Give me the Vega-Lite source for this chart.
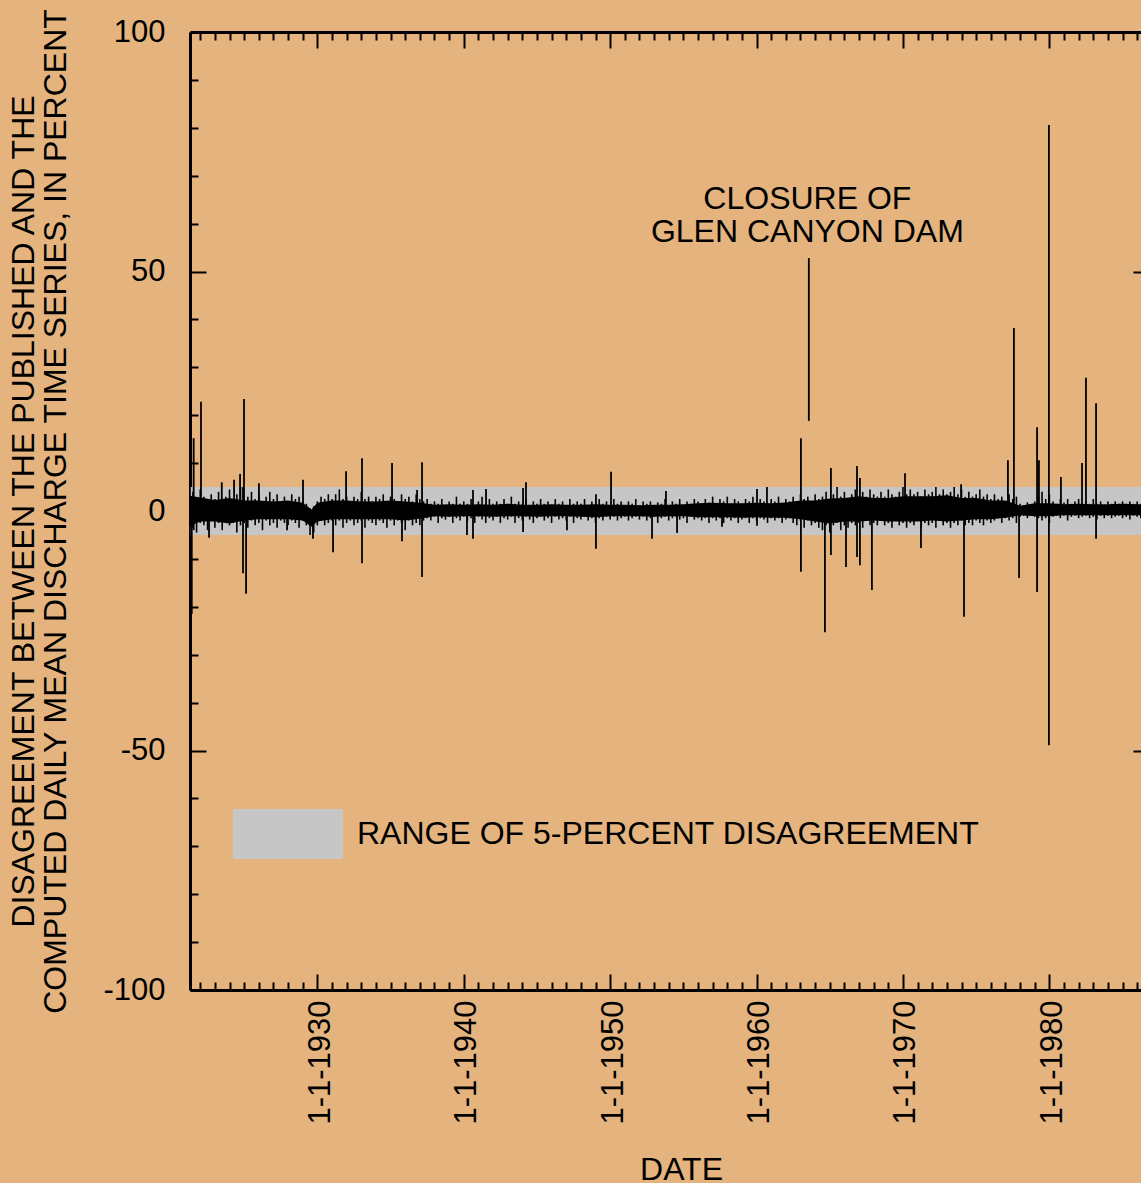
{
  "$schema": "https://vega.github.io/schema/vega-lite/v6.json",
  "width": 951,
  "height": 958,
  "autosize": {"type": "none"},
  "padding": {"left": 190, "top": 32, "right": 0, "bottom": 193},
  "background": "#e5b47e",
  "config": {
    "view": {"stroke": null},
    "font": "Liberation Sans",
    "axis": {
      "grid": false,
      "domainColor": "black",
      "domainWidth": 3,
      "tickColor": "black",
      "tickWidth": 2,
      "labelColor": "black",
      "titleColor": "black",
      "labelFont": "Liberation Sans",
      "titleFont": "Liberation Sans",
      "labelFontSize": 31,
      "titleFontSize": 32,
      "titleFontWeight": "normal",
      "labelOverlap": false,
      "labelFlush": false
    }
  },
  "datasets": {
    "band": [{"lo": -5, "hi": 5, "label": "RANGE OF 5-PERCENT DISAGREEMENT"}],
    "note": [{"t": 1963.47, "v": 63.05, "txt": "CLOSURE OF\nGLEN CANYON DAM"}],
    "core": [
      {"t":1921.3,"lo":-3.2,"hi":3.2},{"t":1922,"lo":-2.2,"hi":2.8},{"t":1923,"lo":-2.2,"hi":2.3},{"t":1924,"lo":-2.6,"hi":2.7},
      {"t":1925,"lo":-2.0,"hi":2.2},{"t":1926,"lo":-1.7,"hi":2.2},{"t":1927,"lo":-1.7,"hi":2.0},{"t":1928,"lo":-1.7,"hi":2.2},
      {"t":1929,"lo":-2.0,"hi":1.7},{"t":1929.6,"lo":-3.3,"hi":0.3},{"t":1930,"lo":-2.2,"hi":1.7},{"t":1931,"lo":-1.7,"hi":2.2},
      {"t":1932,"lo":-1.7,"hi":2.2},{"t":1933,"lo":-1.7,"hi":2.0},{"t":1934,"lo":-1.7,"hi":2.0},{"t":1935,"lo":-1.7,"hi":2.2},
      {"t":1936,"lo":-2.0,"hi":2.0},{"t":1937,"lo":-1.6,"hi":1.7},{"t":1938,"lo":-1.1,"hi":1.3},{"t":1939,"lo":-1.2,"hi":1.4},
      {"t":1940,"lo":-1.1,"hi":1.3},{"t":1941,"lo":-1.1,"hi":1.4},{"t":1942,"lo":-1.2,"hi":1.3},{"t":1943,"lo":-1.1,"hi":1.5},
      {"t":1944,"lo":-1.1,"hi":1.3},{"t":1945,"lo":-1.2,"hi":1.3},{"t":1946,"lo":-1.1,"hi":1.4},{"t":1947,"lo":-1.1,"hi":1.3},
      {"t":1948,"lo":-1.2,"hi":1.3},{"t":1949,"lo":-1.3,"hi":1.4},{"t":1950,"lo":-1.1,"hi":1.3},{"t":1951,"lo":-1.1,"hi":1.3},
      {"t":1952,"lo":-1.1,"hi":1.2},{"t":1953,"lo":-1.2,"hi":1.3},{"t":1954,"lo":-1.1,"hi":1.3},{"t":1955,"lo":-1.1,"hi":1.4},
      {"t":1956,"lo":-1.3,"hi":1.6},{"t":1957,"lo":-1.3,"hi":1.7},{"t":1958,"lo":-1.3,"hi":1.6},{"t":1959,"lo":-1.4,"hi":1.6},
      {"t":1960,"lo":-1.3,"hi":1.7},{"t":1961,"lo":-1.4,"hi":1.6},{"t":1962,"lo":-1.4,"hi":1.8},{"t":1963,"lo":-1.7,"hi":2.2},
      {"t":1964,"lo":-2.2,"hi":2.2},{"t":1965,"lo":-2.6,"hi":2.6},{"t":1966,"lo":-2.2,"hi":2.7},{"t":1967,"lo":-2.2,"hi":3.1},
      {"t":1968,"lo":-2.0,"hi":2.7},{"t":1969,"lo":-2.2,"hi":2.7},{"t":1970,"lo":-2.2,"hi":3.1},{"t":1971,"lo":-2.2,"hi":3.1},
      {"t":1972,"lo":-2.0,"hi":3.1},{"t":1973,"lo":-2.2,"hi":3.3},{"t":1974,"lo":-2.0,"hi":2.7},{"t":1975,"lo":-1.7,"hi":2.7},
      {"t":1976,"lo":-1.7,"hi":2.2},{"t":1977,"lo":-1.4,"hi":2.2},{"t":1978,"lo":-0.9,"hi":1.1},{"t":1979,"lo":-1.1,"hi":1.6},
      {"t":1980,"lo":-1.1,"hi":1.6},{"t":1981,"lo":-0.9,"hi":1.4},{"t":1982,"lo":-0.9,"hi":1.5},{"t":1983,"lo":-0.9,"hi":1.4},
      {"t":1984,"lo":-0.9,"hi":1.4},{"t":1985,"lo":-0.9,"hi":1.5},{"t":1986,"lo":-0.9,"hi":1.4},{"t":1986.8,"lo":-0.9,"hi":1.4}
    ],
    "noise": [
      {"t":1921.30,"lo":-5.5,"hi":5.5},{"t":1921.50,"lo":-3.5,"hi":4.0},{"t":1921.75,"lo":-4.5,"hi":2.5},{"t":1922.00,"lo":-2.5,"hi":4.5},
      {"t":1922.25,"lo":-3.0,"hi":3.0},{"t":1922.50,"lo":-4.0,"hi":2.0},{"t":1922.75,"lo":-2.0,"hi":3.5},{"t":1923.00,"lo":-3.5,"hi":2.5},
      {"t":1923.25,"lo":-2.5,"hi":4.0},{"t":1923.50,"lo":-4.0,"hi":2.5},{"t":1923.75,"lo":-2.0,"hi":3.0},{"t":1924.00,"lo":-3.0,"hi":4.5},
      {"t":1924.25,"lo":-2.5,"hi":2.5},{"t":1924.50,"lo":-4.5,"hi":3.5},{"t":1924.75,"lo":-3.0,"hi":5.0},{"t":1925.00,"lo":-2.5,"hi":2.5},
      {"t":1925.25,"lo":-3.5,"hi":3.0},{"t":1925.50,"lo":-2.0,"hi":4.0},{"t":1925.75,"lo":-3.0,"hi":2.5},{"t":1926.00,"lo":-2.5,"hi":3.5},
      {"t":1926.25,"lo":-4.0,"hi":2.0},{"t":1926.50,"lo":-2.0,"hi":3.0},{"t":1926.75,"lo":-3.0,"hi":4.0},{"t":1927.00,"lo":-2.5,"hi":2.5},
      {"t":1927.25,"lo":-3.5,"hi":3.5},{"t":1927.50,"lo":-2.0,"hi":2.0},{"t":1927.75,"lo":-2.5,"hi":3.0},{"t":1928.00,"lo":-3.0,"hi":2.0},
      {"t":1928.25,"lo":-2.0,"hi":3.5},{"t":1928.50,"lo":-2.5,"hi":2.5},{"t":1928.75,"lo":-3.5,"hi":3.0},{"t":1929.00,"lo":-2.0,"hi":2.0},
      {"t":1929.25,"lo":-3.0,"hi":1.5},{"t":1929.50,"lo":-5.0,"hi":0.5},{"t":1929.75,"lo":-4.5,"hi":1.0},{"t":1930.00,"lo":-3.0,"hi":2.0},
      {"t":1930.25,"lo":-2.0,"hi":3.0},{"t":1930.50,"lo":-3.0,"hi":2.5},{"t":1930.75,"lo":-2.5,"hi":3.5},{"t":1931.00,"lo":-2.0,"hi":2.5},
      {"t":1931.25,"lo":-3.0,"hi":3.5},{"t":1931.50,"lo":-2.0,"hi":4.5},{"t":1931.75,"lo":-3.5,"hi":2.5},{"t":1932.00,"lo":-2.5,"hi":3.0},
      {"t":1932.25,"lo":-2.0,"hi":2.0},{"t":1932.50,"lo":-3.0,"hi":3.0},{"t":1932.75,"lo":-2.5,"hi":2.5},{"t":1933.00,"lo":-2.0,"hi":4.0},
      {"t":1933.25,"lo":-3.5,"hi":2.5},{"t":1933.50,"lo":-2.0,"hi":3.0},{"t":1933.75,"lo":-2.5,"hi":2.0},{"t":1934.00,"lo":-3.0,"hi":3.0},
      {"t":1934.25,"lo":-2.0,"hi":2.5},{"t":1934.50,"lo":-2.5,"hi":3.5},{"t":1934.75,"lo":-3.5,"hi":2.0},{"t":1935.00,"lo":-2.0,"hi":3.0},
      {"t":1935.25,"lo":-3.0,"hi":2.5},{"t":1935.50,"lo":-2.0,"hi":2.0},{"t":1935.75,"lo":-2.5,"hi":3.5},{"t":1936.00,"lo":-4.0,"hi":2.5},
      {"t":1936.25,"lo":-2.0,"hi":3.0},{"t":1936.50,"lo":-3.0,"hi":2.0},{"t":1936.75,"lo":-2.5,"hi":3.5},{"t":1937.00,"lo":-3.0,"hi":2.5},
      {"t":1937.25,"lo":-2.0,"hi":2.0},{"t":1937.50,"lo":-1.5,"hi":2.5},{"t":1937.75,"lo":-2.0,"hi":1.5},{"t":1938.00,"lo":-1.2,"hi":2.0},
      {"t":1938.25,"lo":-2.5,"hi":1.5},{"t":1938.50,"lo":-1.5,"hi":2.5},{"t":1938.75,"lo":-1.8,"hi":1.2},{"t":1939.00,"lo":-1.2,"hi":2.0},
      {"t":1939.25,"lo":-2.5,"hi":1.5},{"t":1939.50,"lo":-1.5,"hi":3.0},{"t":1939.75,"lo":-2.0,"hi":1.5},{"t":1940.00,"lo":-1.2,"hi":2.0},
      {"t":1940.25,"lo":-2.0,"hi":1.5},{"t":1940.50,"lo":-1.5,"hi":2.5},{"t":1940.75,"lo":-2.5,"hi":1.2},{"t":1941.00,"lo":-1.2,"hi":2.0},
      {"t":1941.25,"lo":-1.8,"hi":3.0},{"t":1941.50,"lo":-2.5,"hi":1.5},{"t":1941.75,"lo":-1.5,"hi":2.5},{"t":1942.00,"lo":-2.0,"hi":1.5},
      {"t":1942.25,"lo":-1.2,"hi":2.0},{"t":1942.50,"lo":-2.5,"hi":1.5},{"t":1942.75,"lo":-1.5,"hi":2.5},{"t":1943.00,"lo":-1.8,"hi":1.5},
      {"t":1943.25,"lo":-1.2,"hi":3.0},{"t":1943.50,"lo":-2.5,"hi":1.5},{"t":1943.75,"lo":-1.5,"hi":2.0},{"t":1944.00,"lo":-2.0,"hi":1.5},
      {"t":1944.25,"lo":-1.2,"hi":2.5},{"t":1944.50,"lo":-1.8,"hi":1.2},{"t":1944.75,"lo":-2.5,"hi":2.0},{"t":1945.00,"lo":-1.5,"hi":1.5},
      {"t":1945.25,"lo":-1.2,"hi":2.5},{"t":1945.50,"lo":-2.0,"hi":1.5},{"t":1945.75,"lo":-1.5,"hi":2.0},{"t":1946.00,"lo":-2.5,"hi":1.2},
      {"t":1946.25,"lo":-1.2,"hi":2.5},{"t":1946.50,"lo":-1.8,"hi":1.5},{"t":1946.75,"lo":-1.5,"hi":2.0},{"t":1947.00,"lo":-2.0,"hi":1.2},
      {"t":1947.25,"lo":-1.2,"hi":2.5},{"t":1947.50,"lo":-2.5,"hi":1.5},{"t":1947.75,"lo":-1.5,"hi":2.0},{"t":1948.00,"lo":-1.8,"hi":1.5},
      {"t":1948.25,"lo":-1.2,"hi":2.5},{"t":1948.50,"lo":-2.0,"hi":1.2},{"t":1948.75,"lo":-1.5,"hi":2.0},{"t":1949.00,"lo":-2.5,"hi":1.5},
      {"t":1949.25,"lo":-1.5,"hi":2.5},{"t":1949.50,"lo":-2.0,"hi":1.5},{"t":1949.75,"lo":-1.2,"hi":2.0},{"t":1950.00,"lo":-1.8,"hi":1.2},
      {"t":1950.25,"lo":-1.2,"hi":2.5},{"t":1950.50,"lo":-2.0,"hi":1.5},{"t":1950.75,"lo":-1.5,"hi":2.0},{"t":1951.00,"lo":-1.2,"hi":1.2},
      {"t":1951.25,"lo":-2.0,"hi":2.0},{"t":1951.50,"lo":-1.5,"hi":1.5},{"t":1951.75,"lo":-1.2,"hi":2.5},{"t":1952.00,"lo":-1.8,"hi":1.2},
      {"t":1952.25,"lo":-1.2,"hi":2.0},{"t":1952.50,"lo":-2.0,"hi":1.5},{"t":1952.75,"lo":-1.5,"hi":2.0},{"t":1953.00,"lo":-1.2,"hi":1.2},
      {"t":1953.25,"lo":-2.5,"hi":1.8},{"t":1953.50,"lo":-1.5,"hi":1.5},{"t":1953.75,"lo":-1.2,"hi":2.5},{"t":1954.00,"lo":-2.0,"hi":1.2},
      {"t":1954.25,"lo":-1.5,"hi":2.0},{"t":1954.50,"lo":-1.2,"hi":1.5},{"t":1954.75,"lo":-1.8,"hi":2.5},{"t":1955.00,"lo":-1.5,"hi":1.2},
      {"t":1955.25,"lo":-2.5,"hi":2.0},{"t":1955.50,"lo":-1.2,"hi":1.5},{"t":1955.75,"lo":-1.8,"hi":2.5},{"t":1956.00,"lo":-1.5,"hi":2.0},
      {"t":1956.25,"lo":-2.0,"hi":1.5},{"t":1956.50,"lo":-1.5,"hi":2.5},{"t":1956.75,"lo":-2.5,"hi":1.8},{"t":1957.00,"lo":-1.5,"hi":3.0},
      {"t":1957.25,"lo":-2.0,"hi":1.5},{"t":1957.50,"lo":-1.5,"hi":2.5},{"t":1957.75,"lo":-2.5,"hi":2.0},{"t":1958.00,"lo":-1.5,"hi":3.0},
      {"t":1958.25,"lo":-2.0,"hi":1.5},{"t":1958.50,"lo":-1.5,"hi":2.5},{"t":1958.75,"lo":-2.5,"hi":2.0},{"t":1959.00,"lo":-1.8,"hi":1.5},
      {"t":1959.25,"lo":-1.5,"hi":2.5},{"t":1959.50,"lo":-2.5,"hi":2.0},{"t":1959.75,"lo":-1.5,"hi":3.0},{"t":1960.00,"lo":-2.0,"hi":1.5},
      {"t":1960.25,"lo":-1.5,"hi":2.5},{"t":1960.50,"lo":-1.8,"hi":2.0},{"t":1960.75,"lo":-2.5,"hi":1.5},{"t":1961.00,"lo":-1.5,"hi":2.5},
      {"t":1961.25,"lo":-2.0,"hi":2.0},{"t":1961.50,"lo":-1.5,"hi":3.0},{"t":1961.75,"lo":-2.5,"hi":1.5},{"t":1962.00,"lo":-1.8,"hi":2.5},
      {"t":1962.25,"lo":-1.5,"hi":2.0},{"t":1962.50,"lo":-2.5,"hi":3.0},{"t":1962.75,"lo":-3.0,"hi":2.0},{"t":1963.00,"lo":-2.0,"hi":3.5},
      {"t":1963.25,"lo":-3.5,"hi":2.5},{"t":1963.50,"lo":-2.0,"hi":3.0},{"t":1963.75,"lo":-3.0,"hi":2.0},{"t":1964.00,"lo":-2.5,"hi":3.5},
      {"t":1964.25,"lo":-3.5,"hi":2.5},{"t":1964.50,"lo":-4.0,"hi":3.0},{"t":1964.75,"lo":-3.0,"hi":4.0},{"t":1965.00,"lo":-4.5,"hi":2.5},
      {"t":1965.25,"lo":-3.0,"hi":3.5},{"t":1965.50,"lo":-2.5,"hi":5.0},{"t":1965.75,"lo":-4.0,"hi":3.0},{"t":1966.00,"lo":-3.0,"hi":4.0},
      {"t":1966.25,"lo":-3.5,"hi":2.5},{"t":1966.50,"lo":-2.5,"hi":3.5},{"t":1966.75,"lo":-3.0,"hi":4.5},{"t":1967.00,"lo":-2.5,"hi":3.0},
      {"t":1967.25,"lo":-3.5,"hi":4.0},{"t":1967.50,"lo":-2.0,"hi":3.0},{"t":1967.75,"lo":-3.0,"hi":4.5},{"t":1968.00,"lo":-2.5,"hi":3.5},
      {"t":1968.25,"lo":-3.0,"hi":3.0},{"t":1968.50,"lo":-2.0,"hi":4.0},{"t":1968.75,"lo":-3.0,"hi":3.0},{"t":1969.00,"lo":-2.5,"hi":4.5},
      {"t":1969.25,"lo":-3.5,"hi":3.5},{"t":1969.50,"lo":-2.0,"hi":3.0},{"t":1969.75,"lo":-3.0,"hi":4.0},{"t":1970.00,"lo":-2.5,"hi":5.0},
      {"t":1970.25,"lo":-3.5,"hi":3.5},{"t":1970.50,"lo":-2.5,"hi":4.5},{"t":1970.75,"lo":-3.0,"hi":3.5},{"t":1971.00,"lo":-2.0,"hi":4.0},
      {"t":1971.25,"lo":-3.5,"hi":3.0},{"t":1971.50,"lo":-2.5,"hi":4.5},{"t":1971.75,"lo":-3.0,"hi":3.5},{"t":1972.00,"lo":-2.5,"hi":4.0},
      {"t":1972.25,"lo":-3.5,"hi":5.0},{"t":1972.50,"lo":-2.0,"hi":3.5},{"t":1972.75,"lo":-3.0,"hi":4.5},{"t":1973.00,"lo":-2.5,"hi":3.5},
      {"t":1973.25,"lo":-3.5,"hi":4.0},{"t":1973.50,"lo":-2.5,"hi":5.0},{"t":1973.75,"lo":-3.0,"hi":3.5},{"t":1974.00,"lo":-2.0,"hi":4.5},
      {"t":1974.25,"lo":-3.0,"hi":3.0},{"t":1974.50,"lo":-2.5,"hi":4.0},{"t":1974.75,"lo":-3.0,"hi":3.0},{"t":1975.00,"lo":-2.0,"hi":3.5},
      {"t":1975.25,"lo":-2.5,"hi":4.5},{"t":1975.50,"lo":-3.0,"hi":3.0},{"t":1975.75,"lo":-2.0,"hi":3.5},{"t":1976.00,"lo":-2.5,"hi":2.5},
      {"t":1976.25,"lo":-2.0,"hi":3.5},{"t":1976.50,"lo":-1.5,"hi":2.5},{"t":1976.75,"lo":-2.5,"hi":3.0},{"t":1977.00,"lo":-1.5,"hi":2.0},
      {"t":1977.25,"lo":-2.0,"hi":3.5},{"t":1977.50,"lo":-1.5,"hi":2.5},{"t":1977.75,"lo":-2.5,"hi":3.0},{"t":1978.00,"lo":-1.2,"hi":1.5},
      {"t":1978.25,"lo":-1.0,"hi":1.2},{"t":1978.50,"lo":-1.5,"hi":1.8},{"t":1978.75,"lo":-1.0,"hi":1.2},{"t":1979.00,"lo":-1.2,"hi":2.0},
      {"t":1979.25,"lo":-1.5,"hi":3.0},{"t":1979.50,"lo":-2.0,"hi":4.0},{"t":1979.75,"lo":-1.5,"hi":2.5},{"t":1980.00,"lo":-2.5,"hi":3.5},
      {"t":1980.25,"lo":-1.2,"hi":2.0},{"t":1980.50,"lo":-1.0,"hi":1.5},{"t":1980.75,"lo":-1.5,"hi":2.5},{"t":1981.00,"lo":-1.0,"hi":1.8},
      {"t":1981.25,"lo":-2.0,"hi":2.5},{"t":1981.50,"lo":-1.2,"hi":1.5},{"t":1981.75,"lo":-1.0,"hi":2.0},{"t":1982.00,"lo":-1.5,"hi":2.5},
      {"t":1982.25,"lo":-1.2,"hi":1.5},{"t":1982.50,"lo":-1.0,"hi":2.0},{"t":1982.75,"lo":-1.5,"hi":1.5},{"t":1983.00,"lo":-1.2,"hi":2.5},
      {"t":1983.25,"lo":-1.8,"hi":1.5},{"t":1983.50,"lo":-1.0,"hi":2.0},{"t":1983.75,"lo":-1.5,"hi":1.2},{"t":1984.00,"lo":-1.0,"hi":2.0},
      {"t":1984.25,"lo":-1.5,"hi":1.5},{"t":1984.50,"lo":-1.2,"hi":2.0},{"t":1984.75,"lo":-1.0,"hi":1.5},{"t":1985.00,"lo":-1.5,"hi":2.0},
      {"t":1985.25,"lo":-1.2,"hi":1.5},{"t":1985.50,"lo":-1.8,"hi":2.0},{"t":1985.75,"lo":-1.0,"hi":1.5},{"t":1986.00,"lo":-1.2,"hi":2.0},
      {"t":1986.25,"lo":-1.5,"hi":1.5}
    ],
    "spikes": [
      {"t":1921.42,"lo":-21.5,"hi":2},{"t":1921.55,"lo":-4,"hi":15.2},{"t":1922.05,"lo":-2,"hi":22.8},{"t":1922.60,"lo":-5.6,"hi":1},
      {"t":1923.47,"lo":-1,"hi":6},{"t":1924.31,"lo":-1,"hi":6.5},{"t":1924.72,"lo":-1,"hi":7.7},{"t":1924.92,"lo":-13,"hi":5},
      {"t":1924.99,"lo":-2,"hi":23.4},{"t":1925.13,"lo":-17.3,"hi":2},{"t":1926.01,"lo":-1,"hi":5.8},{"t":1927.93,"lo":-4,"hi":1},
      {"t":1929.02,"lo":-1,"hi":6.5},{"t":1929.70,"lo":-5.8,"hi":0},{"t":1931.07,"lo":-8.6,"hi":1},{"t":1931.96,"lo":-1,"hi":8.3},
      {"t":1933.05,"lo":-10.9,"hi":11},{"t":1935.10,"lo":-1,"hi":10},{"t":1935.78,"lo":-6.3,"hi":1},{"t":1936.81,"lo":-1,"hi":4.4},
      {"t":1937.15,"lo":-13.8,"hi":10.2},{"t":1940.22,"lo":-5,"hi":0},{"t":1940.63,"lo":-5.8,"hi":4.4},{"t":1941.52,"lo":0,"hi":4.6},
      {"t":1944.05,"lo":-4.4,"hi":4.8},{"t":1944.25,"lo":0,"hi":6},{"t":1947.05,"lo":-4,"hi":0},{"t":1949.03,"lo":-7.9,"hi":3.5},
      {"t":1950.06,"lo":0,"hi":8.2},{"t":1952.86,"lo":-5.8,"hi":0},{"t":1953.81,"lo":0,"hi":4.2},{"t":1954.57,"lo":-4.6,"hi":0},
      {"t":1957.64,"lo":-3.3,"hi":0},{"t":1960.03,"lo":-3.1,"hi":4.6},{"t":1960.71,"lo":0,"hi":5},{"t":1963.03,"lo":-12.7,"hi":15.2},
      {"t":1963.57,"lo":18.8,"hi":52.8},{"t":1964.67,"lo":-25.3,"hi":0},{"t":1965.08,"lo":-9.2,"hi":9},{"t":1966.11,"lo":-11.7,"hi":0},
      {"t":1966.86,"lo":-9.6,"hi":9.4},{"t":1967.06,"lo":-11.3,"hi":6.9},{"t":1967.88,"lo":-16.5,"hi":0},{"t":1970.14,"lo":0,"hi":7.9},
      {"t":1971.23,"lo":-7.7,"hi":0},{"t":1973.97,"lo":0,"hi":5.6},{"t":1974.17,"lo":-22.1,"hi":0},{"t":1977.17,"lo":0,"hi":10.6},
      {"t":1977.58,"lo":0,"hi":38.2},{"t":1977.93,"lo":-14,"hi":0},{"t":1979.16,"lo":-16.9,"hi":17.5},{"t":1979.29,"lo":0,"hi":10.6},
      {"t":1979.97,"lo":-48.9,"hi":80.6},{"t":1980.79,"lo":0,"hi":7.1},{"t":1982.23,"lo":0,"hi":10},{"t":1982.50,"lo":0,"hi":27.8},
      {"t":1983.19,"lo":-5.8,"hi":22.5}
    ]
  },
  "layer": [
    {
      "data": {"name": "band"},
      "mark": {"type": "rect"},
      "encoding": {
        "y": {"field": "lo", "type": "quantitative", "scale": {"domain": [-100, 100], "nice": false, "zero": false}, "axis": null},
        "y2": {"field": "hi"},
        "fill": {
          "field": "label", "type": "nominal",
          "scale": {"range": ["#c6c6c6"]},
          "legend": {
            "orient": "none", "legendX": 43, "legendY": 747, "title": null, "padding": 0,
            "symbolType": "M-1,-0.4545H1V0.4545H-1Z", "symbolSize": 12100, "symbolStrokeWidth": 0,
            "labelFontSize": 32, "labelFont": "Liberation Sans", "labelColor": "black", "labelOffset": 14, "labelLimit": 0
          }
        }
      }
    },
    {
      "data": {"name": "core"},
      "mark": {"type": "area", "fill": "black", "clip": true},
      "encoding": {
        "x": {
          "field": "t", "type": "quantitative",
          "scale": {"domain": [1921.3, 1986.26], "nice": false, "zero": false},
          "axis": {
            "orient": "bottom",
            "values": [1922,1923,1924,1925,1926,1927,1928,1929,1930,1931,1932,1933,1934,1935,1936,1937,1938,1939,1940,1941,1942,1943,1944,1945,1946,1947,1948,1949,1950,1951,1952,1953,1954,1955,1956,1957,1958,1959,1960,1961,1962,1963,1964,1965,1966,1967,1968,1969,1970,1971,1972,1973,1974,1975,1976,1977,1978,1979,1980,1981,1982,1983,1984,1985,1986],
            "tickSize": {"condition": {"test": "datum.value % 10 === 0", "value": -16}, "value": -8},
            "labelExpr": "datum.value % 10 === 0 ? '1-1-' + datum.value : ''",
            "labelAngle": 270, "labelAlign": "right", "labelBaseline": "middle",
            "labelPadding": 26, "labelOffset": 3,
            "title": "DATE", "titlePadding": 30, "titleX": 491
          }
        },
        "y": {
          "field": "lo", "type": "quantitative",
          "axis": {
            "orient": "left",
            "values": [-100,-90,-80,-70,-60,-50,-40,-30,-20,-10,0,10,20,30,40,50,60,70,80,90,100],
            "tickSize": {"condition": {"test": "datum.value % 50 === 0", "value": -16}, "value": -8},
            "labelExpr": "datum.value % 50 === 0 ? '' + datum.value : ''",
            "labelPadding": 41,
            "title": ["DISAGREEMENT BETWEEN THE PUBLISHED AND THE", "COMPUTED DAILY MEAN DISCHARGE TIME SERIES, IN PERCENT"],
            "titleLineHeight": 32, "titlePadding": 30
          }
        },
        "y2": {"field": "hi"}
      }
    },
    {
      "data": {"name": "noise"},
      "mark": {"type": "rule", "color": "black", "strokeWidth": 1.6},
      "encoding": {
        "x": {"field": "t", "type": "quantitative", "axis": null},
        "y": {"field": "lo", "type": "quantitative", "axis": null},
        "y2": {"field": "hi"}
      }
    },
    {
      "data": {"name": "spikes"},
      "mark": {"type": "rule", "color": "black", "strokeWidth": 1.8},
      "encoding": {
        "x": {
          "field": "t", "type": "quantitative",
          "axis": {
            "orient": "top",
            "values": [1922,1923,1924,1925,1926,1927,1928,1929,1930,1931,1932,1933,1934,1935,1936,1937,1938,1939,1940,1941,1942,1943,1944,1945,1946,1947,1948,1949,1950,1951,1952,1953,1954,1955,1956,1957,1958,1959,1960,1961,1962,1963,1964,1965,1966,1967,1968,1969,1970,1971,1972,1973,1974,1975,1976,1977,1978,1979,1980,1981,1982,1983,1984,1985,1986],
            "tickSize": {"condition": {"test": "datum.value % 10 === 0", "value": -16}, "value": -8},
            "labels": false, "title": null
          }
        },
        "y": {
          "field": "lo", "type": "quantitative",
          "axis": {
            "orient": "right", "offset": 8,
            "values": [-100,-90,-80,-70,-60,-50,-40,-30,-20,-10,0,10,20,30,40,50,60,70,80,90,100],
            "tickSize": {"condition": {"test": "datum.value % 50 === 0", "value": -16}, "value": -8},
            "labels": false, "title": null
          }
        },
        "y2": {"field": "hi"}
      }
    },
    {
      "data": {"name": "note"},
      "mark": {"type": "text", "align": "center", "baseline": "alphabetic", "fontSize": 32, "lineHeight": 33, "lineBreak": "\n", "color": "black", "font": "Liberation Sans"},
      "encoding": {
        "x": {"field": "t", "type": "quantitative", "axis": null},
        "y": {"field": "v", "type": "quantitative", "axis": null},
        "text": {"field": "txt", "type": "nominal"}
      }
    }
  ],
  "resolve": {"axis": {"x": "independent", "y": "independent"}}
}
